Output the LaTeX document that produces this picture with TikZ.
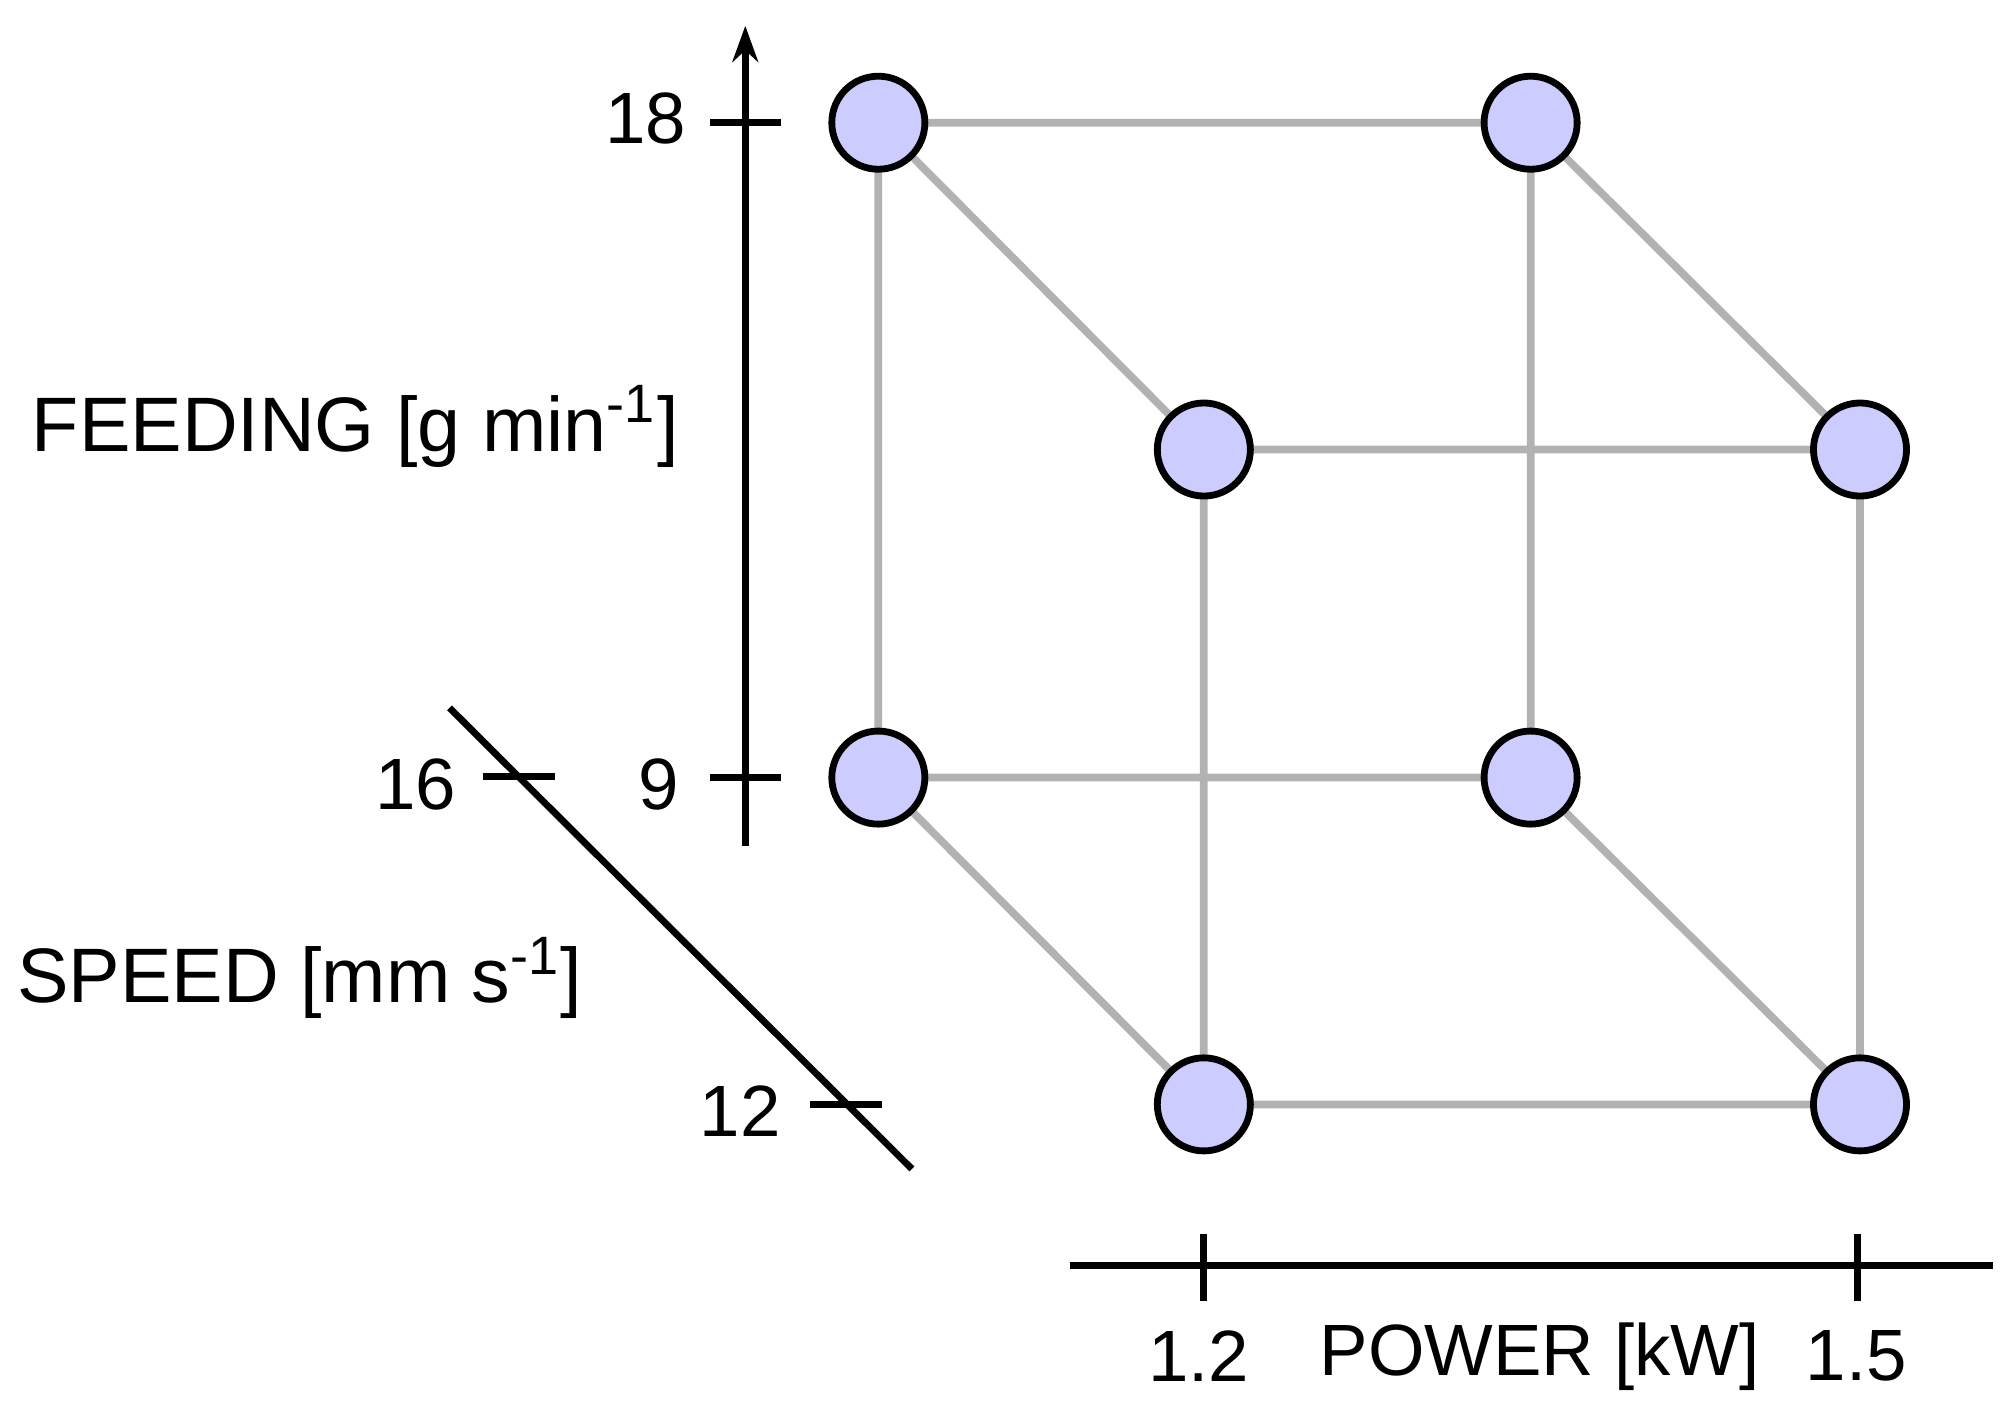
\documentclass[tikz,border=0pt]{standalone}
\usepackage{fontspec}
\setmainfont{Liberation Sans}
\usetikzlibrary{arrows.meta}
\begin{document}
\begin{tikzpicture}[x=0.01cm,y=-0.01cm,
  pt/.style={circle,draw=black,line width=1.5pt,fill=blue!20,minimum size=0.72cm,inner sep=0pt},
  edge/.style={draw=black!30,line width=1.7pt},
  ax/.style={draw=black,line width=1.5pt},
  lbl/.style={font=\fontsize{17}{20}\selectfont},
  num/.style={font=\fontsize{16}{19}\selectfont}]
\useasboundingbox (0,0) rectangle (1560,1084);
\coordinate (btl) at (680,95); \coordinate (btr) at (1185,95);
\coordinate (ftl) at (932,348); \coordinate (ftr) at (1440,348);
\coordinate (bbl) at (680,602); \coordinate (bbr) at (1185,602);
\coordinate (fbl) at (932,855); \coordinate (fbr) at (1440,855);
\draw[edge] (btl)--(btr) (btl)--(ftl) (btl)--(bbl) (btr)--(ftr) (btr)--(bbr)
 (ftl)--(ftr) (ftl)--(fbl) (ftr)--(fbr) (bbl)--(bbr) (bbl)--(fbl) (bbr)--(fbr) (fbl)--(fbr);
\foreach \n in {btl,btr,ftl,ftr,bbl,bbr,fbl,fbr} \node[pt] (n\n) at (\n) {};
% feeding axis
\coordinate (fa0) at (577,655); \coordinate (fa1) at (577,20);
\draw[ax,-{Stealth[length=0.28cm,width=0.2cm]}] (fa0)--(fa1);
\coordinate (t18a) at (550,95); \coordinate (t18b) at (605,95);
\coordinate (t9a) at (550,602); \coordinate (t9b) at (605,602);
\draw[ax] (t18a)--(t18b) (t9a)--(t9b);
\node[num] (l18) at (500,92) {18};
\node[num] (l9) at (510,607) {9};
\node[lbl] (lf) at (275,330) {FEEDING [g min\textsuperscript{-1}]};
% speed axis
\coordinate (s0) at (348,548); \coordinate (s1) at (706,905);
\draw[ax] (s0)--(s1);
\coordinate (t16a) at (374,601); \coordinate (t16b) at (430,601);
\coordinate (t12a) at (627,855); \coordinate (t12b) at (683,855);
\draw[ax] (t16a)--(t16b) (t12a)--(t12b);
\node[num] (l16) at (322,607) {16};
\node[num] (l12) at (573,860) {12};
\node[lbl] (ls) at (232,757) {SPEED [mm s\textsuperscript{-1}]};
% power axis
\coordinate (p0) at (828,980); \coordinate (p1) at (1543,980);
\draw[ax] (p0)--(p1);
\coordinate (ta) at (932,955); \coordinate (tb) at (932,1007);
\coordinate (tc) at (1438,955); \coordinate (td) at (1438,1007);
\draw[ax] (ta)--(tb) (tc)--(td);
\node[num] (l12p) at (928,1050) {1.2};
\node[num] (lp) at (1192,1050) {POWER [kW]};
\node[num] (l15) at (1437,1050) {1.5};
\end{tikzpicture}
\end{document}
